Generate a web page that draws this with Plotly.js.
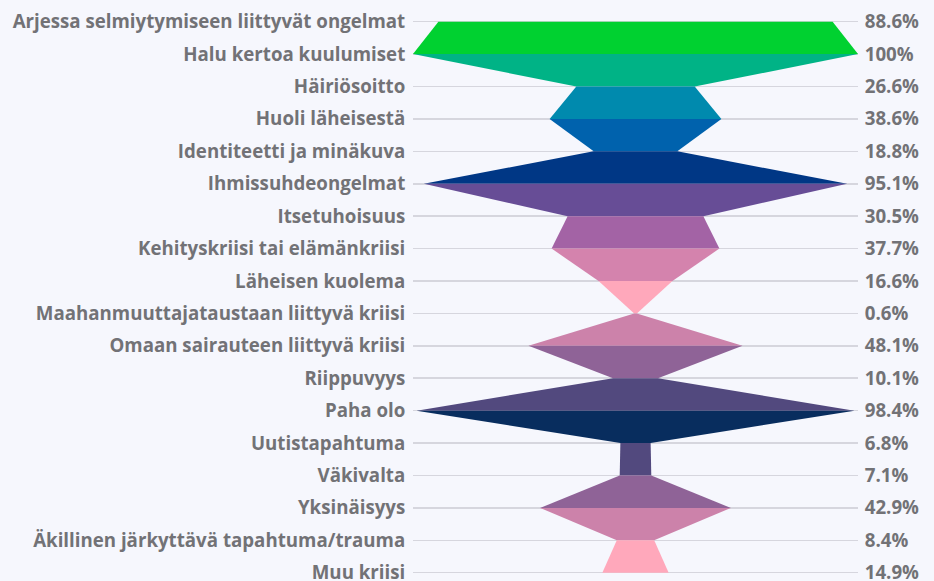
<!DOCTYPE html>
<html>
<head>
<meta charset="utf-8">
<script src="https://cdn.plot.ly/plotly-3.0.1.min.js"></script>
<style>
html,body{margin:0;padding:0;background:#f6f7fd;}
#chart{width:934px;height:581px;}
</style>
</head>
<body>
<div id="chart"></div>
<script>
var categories = [
  "Arjessa selmiytymiseen liittyvät ongelmat",
  "Halu kertoa kuulumiset",
  "Häiriösoitto",
  "Huoli läheisestä",
  "Identiteetti ja minäkuva",
  "Ihmissuhdeongelmat",
  "Itsetuhoisuus",
  "Kehityskriisi tai elämänkriisi",
  "Läheisen kuolema",
  "Maahanmuuttajataustaan liittyvä kriisi",
  "Omaan sairauteen liittyvä kriisi",
  "Riippuvyys",
  "Paha olo",
  "Uutistapahtuma",
  "Väkivalta",
  "Yksinäisyys",
  "Äkillinen järkyttävä tapahtuma/trauma",
  "Muu kriisi"
];
var values = [88.6, 100, 26.6, 38.6, 18.8, 95.1, 30.5, 37.7, 16.6, 0.6, 48.1, 10.1, 98.4, 6.8, 7.1, 42.9, 8.4, 14.9];
var segmentColors = [
  "#00d130", "#00b386", "#008aae", "#0062ad", "#003785", "#674d96",
  "#a363a5", "#d483ad", "#ffa8bb", "#cc82aa", "#8f6397", "#52497e",
  "#082d5e", "#52497e", "#8f6397", "#cc82aa", "#ffa8bb"
];

var idx = categories.map(function(_, i){ return i; });
var pctLabels = values.map(function(v){ return v + "%"; });

var traces = [];
for (var i = 0; i < values.length - 1; i++) {
  var a = values[i] / 2, b = values[i + 1] / 2;
  traces.push({
    type: "scatter",
    x: [-a, a, b, -b, -a],
    y: [i, i, i + 1, i + 1, i],
    fill: "toself",
    fillcolor: segmentColors[i],
    mode: "lines",
    line: {width: 0, color: segmentColors[i]},
    hoverinfo: "skip",
    showlegend: false,
    xaxis: "x",
    yaxis: "y"
  });
}
traces.push({
  type: "scatter",
  x: values.map(function(){ return 0; }),
  y: idx,
  mode: "markers",
  marker: {opacity: 0},
  hoverinfo: "skip",
  showlegend: false,
  yaxis: "y2"
});

var tickFont = {family: "Open Sans", size: 18.7, color: "#727276", weight: "bold"};

// row spacing: first row at 21.7px, last at 572.7px, plot spans the full height
var rowPx = (572.7 - 21.7) / 17;
var yTop = -21.7 / rowPx;
var yBottom = 17 + (581 - 572.7) / rowPx;

var layout = {
  width: 934,
  height: 581,
  paper_bgcolor: "#f6f7fd",
  plot_bgcolor: "#f6f7fd",
  margin: {l: 413, r: 76, t: 0, b: 0, pad: 0},
  showlegend: false,
  xaxis: {
    range: [-50, 50],
    showgrid: false,
    zeroline: false,
    showticklabels: false,
    fixedrange: true
  },
  yaxis: {
    range: [yBottom, yTop],
    tickvals: idx,
    ticktext: categories,
    showgrid: true,
    gridcolor: "#d6d6de",
    gridwidth: 1.5,
    zeroline: false,
    ticks: "outside",
    ticklen: 3,
    tickcolor: "rgba(0,0,0,0)",
    tickfont: tickFont,
    ticklabeloverflow: "allow",
    fixedrange: true
  },
  yaxis2: {
    overlaying: "y",
    side: "right",
    range: [yBottom, yTop],
    tickvals: idx,
    ticktext: pctLabels,
    showgrid: false,
    zeroline: false,
    ticks: "outside",
    ticklen: 2,
    tickcolor: "rgba(0,0,0,0)",
    tickfont: tickFont,
    ticklabeloverflow: "allow",
    fixedrange: true
  }
};

Plotly.newPlot("chart", traces, layout, {displayModeBar: false, staticPlot: true});
</script>
</body>
</html>
